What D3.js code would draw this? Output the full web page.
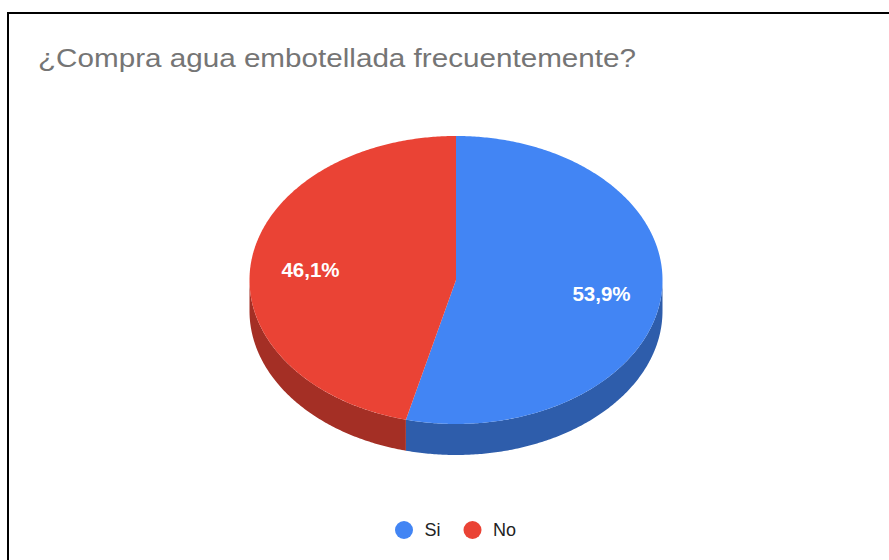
<!DOCTYPE html>
<html>
<head>
<meta charset="utf-8">
<script src="https://cdn.jsdelivr.net/npm/d3@7/dist/d3.min.js"></script>
<style>
  html, body { margin: 0; padding: 0; background: #fff; }
  svg { display: block; }
</style>
</head>
<body>
<script>
// Survey answers and their shares (percent)
const categories = ["Si", "No"];
const values = [53.9, 46.1];
const colors = ["#4285F4", "#EA4335"];
const sideColors = ["#2E5DAB", "#A42F25"];
const title = "¿Compra agua embotellada frecuentemente?";

const W = 889, H = 560;
const FONT = "Arial, 'Liberation Sans', Helvetica, sans-serif";
const svg = d3.select("body").append("svg").attr("width", W).attr("height", H);

svg.append("rect").attr("width", W).attr("height", H).attr("fill", "#fff");

// Chart frame
svg.append("rect")
  .attr("x", 8).attr("y", 13).attr("width", W + 10).attr("height", H + 10)
  .attr("fill", "none").attr("stroke", "#000").attr("stroke-width", 2);

svg.append("text")
  .attr("x", 38).attr("y", 66.5)
  .attr("font-family", FONT)
  .attr("font-size", 26.5)
  .attr("textLength", 598)
  .attr("lengthAdjust", "spacingAndGlyphs")
  .attr("fill", "#757575")
  .text(title);

// 3D pie geometry
const cx = 456, cy = 280, rx = 206.5, ry = 144, depth = 31;
const pt = (t, dy = 0) => [cx + rx * Math.sin(t), cy - ry * Math.cos(t) + dy];

const pie = d3.pie().sort(null).startAngle(0).endAngle(2 * Math.PI);
const arcs = pie(values);

function facePath(a0, a1) {
  const n = Math.max(2, Math.ceil((a1 - a0) / 0.01));
  const pts = d3.range(n + 1).map(i => pt(a0 + (a1 - a0) * i / n));
  return "M" + cx + "," + cy + "L" + pts.map(p => p.join(",")).join("L") + "Z";
}

function sidePath(a0, a1) {
  const n = Math.max(2, Math.ceil((a1 - a0) / 0.01));
  const top = d3.range(n + 1).map(i => pt(a0 + (a1 - a0) * i / n));
  const bot = d3.range(n + 1).map(i => pt(a1 - (a1 - a0) * i / n, depth));
  return "M" + top.concat(bot).map(p => p.join(",")).join("L") + "Z";
}

// Side walls: only the front half (angles π/2 .. 3π/2) faces the viewer
const gSide = svg.append("g");
arcs.forEach((a, i) => {
  const s = Math.max(a.startAngle, Math.PI / 2);
  const e = Math.min(a.endAngle, 3 * Math.PI / 2);
  if (e > s) {
    gSide.append("path").attr("d", sidePath(s, e)).attr("fill", sideColors[i]);
  }
});

const gTop = svg.append("g");
arcs.forEach((a, i) => {
  gTop.append("path").attr("d", facePath(a.startAngle, a.endAngle)).attr("fill", colors[i]);
});

// Percent labels
const fmt = v => v.toFixed(1).replace(".", ",") + "%";
arcs.forEach((a, i) => {
  const m = (a.startAngle + a.endAngle) / 2;
  const f = 0.71;
  svg.append("text")
    .attr("x", cx + rx * f * Math.sin(m))
    .attr("y", cy - ry * f * Math.cos(m) + 1.5)
    .attr("text-anchor", "middle")
    .attr("dominant-baseline", "central")
    .attr("font-family", FONT)
    .attr("font-size", 20.5)
    .attr("font-weight", "bold")
    .attr("fill", "#fff")
    .text(fmt(values[i]));
});

// Legend
const legend = svg.append("g").attr("transform", "translate(0,530)");
const legendX = [404, 472.5];
categories.forEach((c, i) => {
  legend.append("circle").attr("cx", legendX[i]).attr("cy", 0).attr("r", 9).attr("fill", colors[i]);
  legend.append("text")
    .attr("x", legendX[i] + 20.5).attr("y", 0)
    .attr("dominant-baseline", "central")
    .attr("font-family", FONT)
    .attr("font-size", 18)
    .attr("fill", "#222")
    .text(c);
});
</script>
</body>
</html>
